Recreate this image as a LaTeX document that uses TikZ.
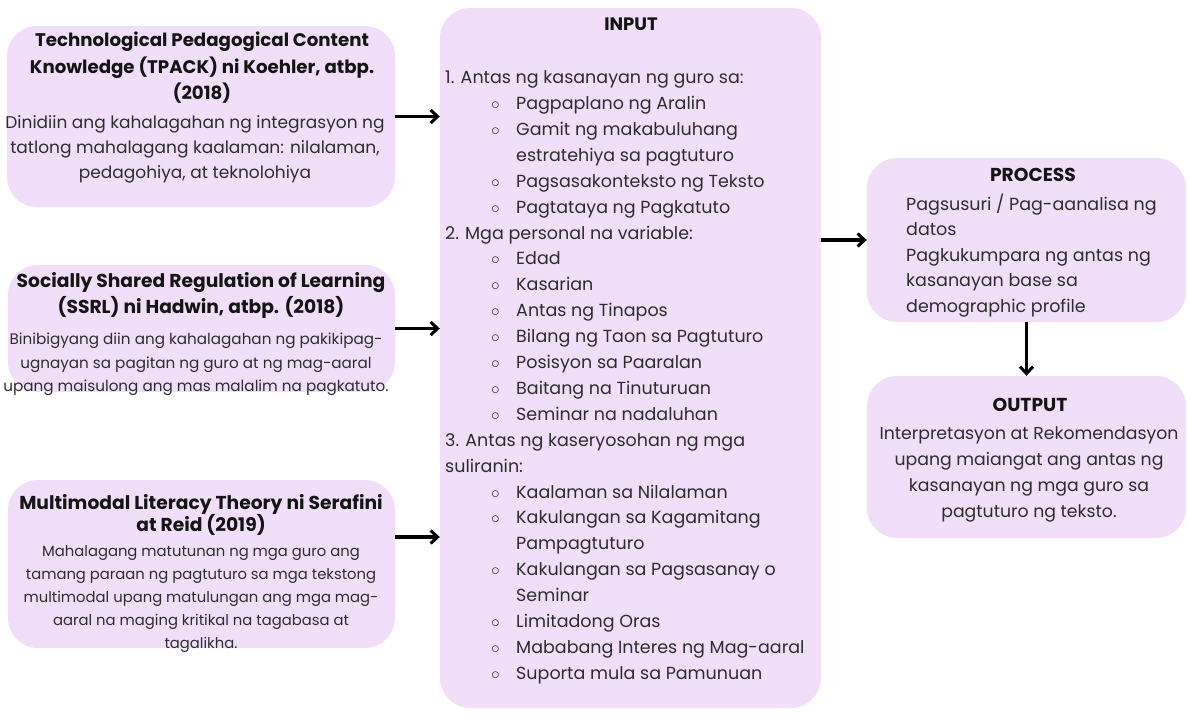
\documentclass[tikz,border=0pt]{standalone}
\usepackage{fontspec}
\setmainfont{Poppins}
\usetikzlibrary{arrows.meta}
\definecolor{boxfill}{RGB}{241,223,249}
\definecolor{bodytxt}{RGB}{45,45,45}
\definecolor{titletxt}{RGB}{20,20,20}
\newcommand\ipbul{\hspace*{46pt}\makebox[25pt][l]{$\circ$}}
\newcommand\ipcont{\hspace*{71pt}}
\begin{document}
\begin{tikzpicture}[x=1pt,y=-1pt,
  panel/.style={draw=none,fill=boxfill,rounded corners=30pt,inner sep=0pt},
  ttl/.style={font=\fontsize{18.7}{26}\selectfont\bfseries,text=titletxt,align=center,inner sep=0pt},
  bod/.style={font=\fontsize{17}{25}\selectfont,text=bodytxt,align=center,inner sep=0pt},
  arr/.style={line width=3.5pt,-{Straight Barb[length=7pt,width=13pt,line width=3pt]}}]
\useasboundingbox (0,0) rectangle (1188,713);
\fill[white] (0,0) rectangle (1188,713);
% panels
\node[panel,minimum width=388pt,minimum height=181pt] (tpack) at (201,116.5) {};
\node[panel,minimum width=387pt,minimum height=127pt] (ssrl) at (201.5,328.5) {};
\node[panel,minimum width=387pt,minimum height=168pt] (mlt) at (201.5,564) {};
\node[panel,minimum width=381pt,minimum height=700pt] (input) at (630.5,358) {};
\node[panel,minimum width=319pt,minimum height=164pt] (process) at (1026.5,240) {};
\node[panel,minimum width=319pt,minimum height=162pt] (output) at (1026.5,457) {};
% texts box 1
\node[ttl,font=\fontsize{18.2}{26.5}\selectfont\bfseries,anchor=north] (t1) at (202,32) {Technological Pedagogical Content\\Knowledge (TPACK) ni Koehler, atbp.\\(2018)};
\node[bod,anchor=north] (b1) at (195,115.5) {Dinidiin ang kahalagahan ng integrasyon ng\\tatlong mahalagang kaalaman: nilalaman,\\pedagohiya, at teknolohiya};
% box 2
\node[ttl,anchor=north] (t2) at (201,272) {Socially Shared Regulation of Learning\\(SSRL) ni Hadwin, atbp. (2018)};
\node[bod,font=\fontsize{15.2}{23.5}\selectfont,anchor=north] (b2) at (196,333) {Binibigyang diin ang kahalagahan ng pakikipag-\\ugnayan sa pagitan ng guro at ng mag-aaral\\upang maisulong ang mas malalim na pagkatuto.};
% box 3
\node[ttl,font=\fontsize{18.7}{22.5}\selectfont\bfseries,anchor=north] (t3) at (201,494) {Multimodal Literacy Theory ni Serafini\\at Reid (2019)};
\node[bod,font=\fontsize{14.8}{23}\selectfont,anchor=north] (b3) at (201,545) {Mahalagang matutunan ng mga guro ang\\tamang paraan ng pagtuturo sa mga tekstong\\multimodal upang matulungan ang mga mag-\\aaral na maging kritikal na tagabasa at\\tagalikha.};
% input
\node[ttl,font=\fontsize{18}{26}\selectfont\bfseries,anchor=north] (ti) at (631,18) {INPUT};
\node[bod,font=\fontsize{17.5}{25.9}\selectfont,align=left,anchor=north west] (bi) at (445,70.5) {1. Antas ng kasanayan ng guro sa:\\
\ipbul Pagpaplano ng Aralin\\
\ipbul Gamit ng makabuluhang\\
\ipcont estratehiya sa pagtuturo\\
\ipbul Pagsasakonteksto ng Teksto\\
\ipbul Pagtataya ng Pagkatuto\\
2. Mga personal na variable:\\
\ipbul Edad\\
\ipbul Kasarian\\
\ipbul Antas ng Tinapos\\
\ipbul Bilang ng Taon sa Pagtuturo\\
\ipbul Posisyon sa Paaralan\\
\ipbul Baitang na Tinuturuan\\
\ipbul Seminar na nadaluhan\\
3. Antas ng kaseryosohan ng mga\\
suliranin:\\
\ipbul Kaalaman sa Nilalaman\\
\ipbul Kakulangan sa Kagamitang\\
\ipcont Pampagtuturo\\
\ipbul Kakulangan sa Pagsasanay o\\
\ipcont Seminar\\
\ipbul Limitadong Oras\\
\ipbul Mababang Interes ng Mag-aaral\\
\ipbul Suporta mula sa Pamunuan};
% process
\node[ttl,anchor=north] (tp) at (1033,168) {PROCESS};
\node[bod,font=\fontsize{17.5}{25.5}\selectfont,align=left,anchor=north west] (bp) at (906,193.5) {Pagsusuri / Pag-aanalisa ng\\datos\\Pagkukumpara ng antas ng\\kasanayan base sa\\demographic profile};
% output
\node[ttl,anchor=north] (to) at (1030,398) {OUTPUT};
\node[bod,font=\fontsize{17.3}{26.2}\selectfont,anchor=north] (bo) at (1029,426) {Interpretasyon at Rekomendasyon\\upang maiangat ang antas ng\\kasanayan ng mga guro sa\\pagtuturo ng teksto.};
% arrows
\coordinate (m3) at ([yshift=27pt]mlt.east);
\draw[arr] (tpack.east) -- (input.west |- tpack.east);
\draw[arr] (ssrl.east) -- (input.west |- ssrl.east);
\draw[arr] (m3) -- (input.west |- m3);
\draw[arr] (input.east |- process.west) -- (process.west);
\draw[arr] (process.south) -- (output.north);
\end{tikzpicture}
\end{document}
